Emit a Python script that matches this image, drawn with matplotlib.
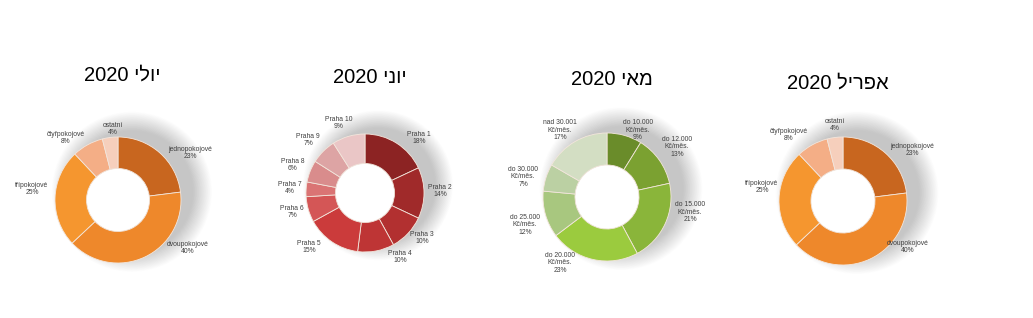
import matplotlib
matplotlib.use("Agg")
import matplotlib.pyplot as plt
import numpy as np
from matplotlib.patches import Circle

# ---------------- data ----------------
rooms_labels = ["jednopokojové", "dvoupokojové", "třípokojové", "čtyřpokojové", "ostatní"]
july_values = [23, 40, 25, 8, 4]
april_values = [23, 40, 25, 8, 4]

praha_labels = ["Praha 1", "Praha 2", "Praha 3", "Praha 4", "Praha 5",
                "Praha 6", "Praha 7", "Praha 8", "Praha 9", "Praha 10"]
june_values = [18, 14, 10, 10, 15, 7, 4, 6, 7, 9]

income_labels = ["do 10.000\nKč/měs.", "do 12.000\nKč/měs.", "do 15.000\nKč/měs.",
                 "do 20.000\nKč/měs.", "do 25.000\nKč/měs.", "do 30.000\nKč/měs.",
                 "nad 30.001\nKč/měs."]
may_values = [9, 13, 21, 23, 12, 7, 17]

months = ["יולי", "יוני", "מאי", "אפריל"]
year = "2020"

# ---------------- style / layout ----------------
orange_cols = ["#C8661F", "#EE882B", "#F5962F", "#F4AE86", "#F6CFBC"]
red_cols = ["#8C2323", "#A02A2A", "#B23030", "#BE3535", "#CB3B3B",
            "#D45656", "#DA7474", "#D98C8C", "#DDA4A4", "#EAC6C6"]
green_cols = ["#6A8C2A", "#7BA131", "#8AB53A", "#9BCB3E", "#A8C77F",
              "#BBD0A3", "#D3DEC3"]

# data-label placement (pixel offsets from donut centre, Excel "best fit")
rooms_lbl_off_a = [(72, -47), (70, 48), (-86, -11), (-52, -62), (-5, -71)]
rooms_lbl_off_b = [(69, -51), (65, 46), (-81, -14), (-54, -66), (-8, -76)]
praha_lbl_off = [(54, -55), (75, -2), (57, 45), (35, 64), (-56, 54),
                 (-73, 19), (-75, -5), (-72, -28), (-57, -53), (-26, -70)]
income_lbl_off = [(31, -67), (70, -50), (83, 15), (-47, 66), (-82, 28),
                  (-84, -20), (-47, -67)]

W, H = 1033, 318
fig = plt.figure(figsize=(W / 100, H / 100), dpi=100)
fig.patch.set_facecolor("white")

TITLE_FONT = ["Liberation Sans", "DejaVu Sans"]
LABEL_FONT = ["Liberation Sans", "DejaVu Sans"]


def visual_hebrew(month, yr):
    # matplotlib has no bidi support: lay out RTL text in visual order
    return yr + " " + month[::-1]


def donut(cx, cy, r, values, labels, colors, offsets, title, tx, ty):
    side = 240
    ax = fig.add_axes([(cx - side / 2) / W, 1 - (cy + side / 2) / H, side / W, side / H])
    lim = side / 2 / r
    # soft shadow towards the upper right
    n = 30
    for k in range(n):
        rad = 0.95 + 0.32 * (1 - k / n)
        ax.add_patch(Circle((0.22, 0.13), rad, color="#8a8a8a", alpha=0.016,
                            lw=0, zorder=0, clip_on=False))
    ax.add_patch(Circle((0, 0), 0.5, color="white", lw=0, zorder=1))
    wedges, _ = ax.pie(values, colors=colors, startangle=90, counterclock=False,
                       radius=1.0, wedgeprops=dict(width=0.5, edgecolor="#F3E6DC", linewidth=0.6))
    ax.set_xlim(-lim, lim)
    ax.set_ylim(-lim, lim)
    ax.set_aspect("equal")
    ax.axis("off")
    for w in wedges:
        w.set_zorder(2)
    for w, lab, v, (dx, dy) in zip(wedges, labels, values, offsets):
        ax.text(dx / r, -dy / r, f"{lab}\n{v}%", ha="center", va="center", fontsize=4.9,
                color="#404040", family=LABEL_FONT, linespacing=1.15, zorder=3,
                clip_on=False)
    fig.text(tx / W, 1 - ty / H, title, ha="center", va="center", fontsize=14.5,
             family=TITLE_FONT, color="black")


donut(118, 200, 63, july_values, rooms_labels, orange_cols, rooms_lbl_off_a,
      visual_hebrew(months[0], year), 122, 75)
donut(365, 193, 59, june_values, praha_labels, red_cols, praha_lbl_off,
      visual_hebrew(months[1], year), 370, 78)
donut(607, 197, 64, may_values, income_labels, green_cols, income_lbl_off,
      visual_hebrew(months[2], year), 612, 80)
donut(843, 201, 64, april_values, rooms_labels, orange_cols, rooms_lbl_off_b,
      visual_hebrew(months[3], year), 838, 83)

fig.savefig("out.png", dpi=100, facecolor="white")
